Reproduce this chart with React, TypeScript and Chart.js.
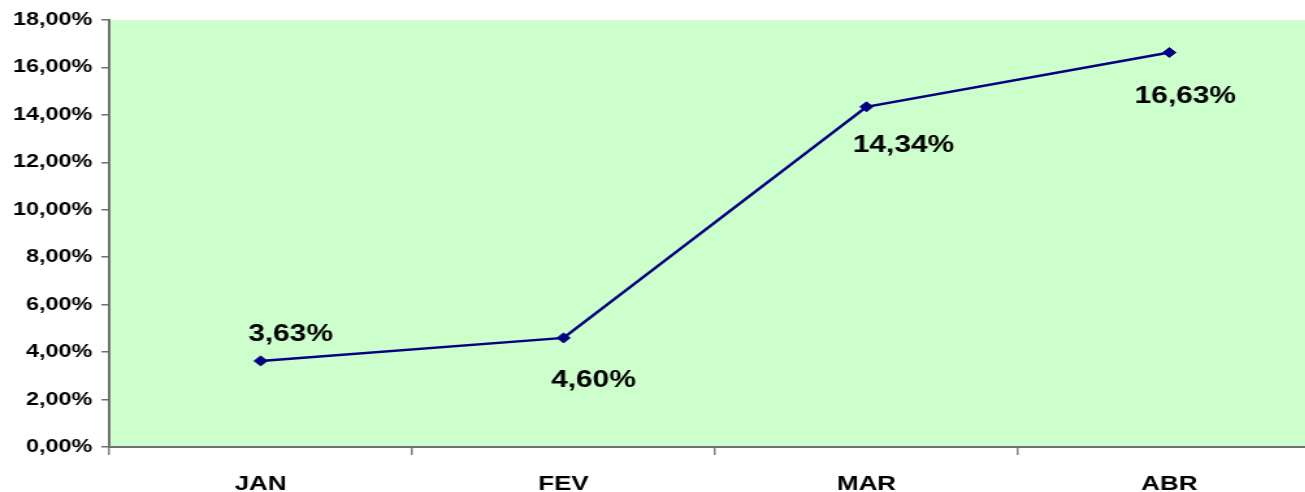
import { useEffect, useRef } from 'react';
import { Chart, registerables } from 'chart.js';

Chart.register(...registerables);

const categories = ['JAN', 'FEV', 'MAR', 'ABR'];
const values = [3.63, 4.6, 14.34, 16.63];
const yTicks = [0, 2, 4, 6, 8, 10, 12, 14, 16, 18];

// horizontal stretch of the original picture
const STRETCH = 1.3;
// data label offsets [dx, dy] relative to each point (logical px)
const labelOffsets = [
  [23, -26],
  [23, 43],
  [28.5, 39],
  [12.3, 44],
];

const FONT = '"Liberation Sans", Arial, Helvetica, sans-serif';
const fmt = (v: number) => v.toFixed(2).replace('.', ',') + '%';

const bgPlugin = {
  id: 'plotBg',
  beforeDraw(chart: any) {
    const { ctx, chartArea } = chart;
    ctx.save();
    ctx.fillStyle = '#CCFFCC';
    ctx.fillRect(chartArea.left, chartArea.top, chartArea.right - chartArea.left, chartArea.bottom - chartArea.top);
    ctx.restore();
  },
};

const labelPlugin = {
  id: 'pointLabels',
  afterDatasetsDraw(chart: any) {
    const { ctx } = chart;
    const meta = chart.getDatasetMeta(0);
    ctx.save();
    ctx.font = `bold 23px ${FONT}`;
    ctx.fillStyle = '#000000';
    ctx.textAlign = 'center';
    ctx.textBaseline = 'middle';
    meta.data.forEach((pt: any, i: number) => {
      const [dx, dy] = labelOffsets[i] || [0, 0];
      ctx.fillText(fmt(values[i]), pt.x + dx, pt.y + dy);
    });
    ctx.restore();
  },
};

export default function App() {
  const ref = useRef<HTMLCanvasElement | null>(null);

  useEffect(() => {
    document.body.style.margin = '0';
    document.body.style.overflow = 'hidden';
    if (!ref.current) return;
    const chart = new Chart(ref.current, {
      type: 'line',
      data: {
        labels: categories,
        datasets: [
          {
            data: values,
            borderColor: '#000080',
            backgroundColor: '#000080',
            borderWidth: 2.5,
            pointStyle: 'rectRot',
            pointRadius: 5,
            pointBorderWidth: 1,
            pointBackgroundColor: '#000080',
            pointBorderColor: '#000080',
            tension: 0,
            fill: false,
          },
        ],
      },
      options: {
        animation: false,
        responsive: true,
        maintainAspectRatio: false,
        layout: { padding: { top: 20, right: 2.8, left: 0, bottom: 0 } },
        plugins: {
          legend: { display: false },
          tooltip: { enabled: false },
          title: { display: false },
        },
        scales: {
          x: {
            type: 'category',
            offset: true,
            grid: {
              offset: true,
              drawOnChartArea: false,
              drawTicks: true,
              tickLength: 8,
              color: '#808080',
              lineWidth: 1.5,
            },
            border: { display: true, color: '#707070', width: 2 },
            ticks: {
              color: '#000000',
              padding: 17,
              font: { family: FONT, size: 20, weight: 'bold' },
              maxRotation: 0,
            },
            afterFit: (s: any) => {
              s.height = 45;
            },
          },
          y: {
            min: 0,
            max: 18,
            grid: {
              drawOnChartArea: false,
              drawTicks: true,
              tickLength: 6,
              color: '#707070',
              lineWidth: 1.5,
            },
            border: { display: true, color: '#707070', width: 2 },
            ticks: {
              color: '#000000',
              padding: 7,
              font: { family: FONT, size: 18, weight: 'bold' },
              callback: (v: any) => fmt(Number(v)),
            },
            afterBuildTicks: (s: any) => {
              s.ticks = yTicks.map((v) => ({ value: v }));
            },
            afterFit: (s: any) => {
              s.width = 84;
            },
          },
        },
      },
      plugins: [bgPlugin, labelPlugin],
    });
    return () => chart.destroy();
  }, []);

  return (
    <div style={{ width: 1305, height: 492, overflow: 'hidden', position: 'relative', background: '#ffffff' }}>
      <div
        style={{
          position: 'absolute',
          left: 0,
          top: 0,
          width: 1022,
          height: 492,
          transform: `scaleX(${STRETCH})`,
          transformOrigin: '0 0',
        }}
      >
        <canvas ref={ref} />
      </div>
    </div>
  );
}
